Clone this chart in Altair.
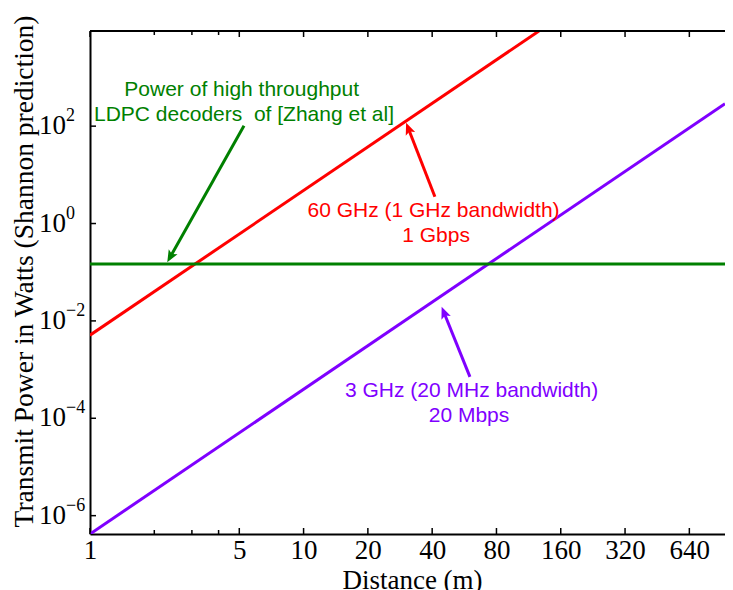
import math
import altair as alt
import pandas as pd

# ---------------- data ----------------
x_ticks = [1, 5, 10, 20, 40, 80, 160, 320, 640]
x_minor = [2, 3, 4]
y_ticks = [1e-6, 1e-4, 1e-2, 1, 1e2]
y_exps = ["\u22126", "\u22124", "\u22122", "0", "2"]

X_DOMAIN = [1, 940]
Y_DOMAIN = [4.2e-7, 9e3]

red_x = [1, 126.5]
red_y = [5.1e-3, 9e3]
purple_x = [1, 940]
purple_y = [4.2e-7, 290]
green_x = [1, 940]
green_y = [0.147, 0.147]

RED = "#ff0000"
GREEN = "#008000"
PURPLE = "#7f00ff"

ann_text = ["Power of high throughput", "LDPC decoders\u00a0 of [Zhang et al]",
            "60 GHz (1 GHz bandwidth)", "1 Gbps",
            "3 GHz (20 MHz bandwidth)", "20 Mbps"]
ann_x = [5.13, 5.26, 40.6, 41.7, 61.2, 59.5]
ann_y = [416, 127, 1.38, 0.423, 2.74e-4, 8.4e-5]
ann_color = [GREEN, GREEN, RED, RED, PURPLE, PURPLE]

arrow_start_x = [5.26, 41.2, 60.1]
arrow_start_y = [102, 3.55, 7.1e-4]
arrow_tip_x = [2.30, 30.2, 44.3]
arrow_tip_y = [0.16, 117.5, 0.0195]
arrow_color = [GREEN, RED, PURPLE]

# ---------------- layout ----------------
W, H = 635, 503
SERIF = "Liberation Serif"
SANS = "Liberation Sans"

xs = alt.Scale(type="log", domain=X_DOMAIN, nice=False)
ys = alt.Scale(type="log", domain=Y_DOMAIN, nice=False)

x_axis = alt.Axis(values=x_ticks, format="d", title="Distance (m)", ticks=False, tickSize=0,
                  labelPadding=24, labelBaseline="alphabetic", labelFont=SERIF, labelFontSize=27,
                  labelColor="black", labelFlush=False, labelOverlap=False,
                  titleFont=SERIF, titleFontSize=27, titleFontWeight="normal", titleColor="black",
                  titleBaseline="alphabetic", titleY=54, titleX=322,
                  domainColor="black", domainWidth=2, grid=False)
y_axis = alt.Axis(values=y_ticks, labels=False, ticks=False, tickSize=0,
                  title="Transmit Power in Watts (Shannon prediction)",
                  titleFont=SERIF, titleFontSize=27.5, titleFontWeight="normal", titleColor="black",
                  titleAngle=270, titleBaseline="alphabetic", titleAlign="center",
                  titleX=-58, titleY=240, domainColor="black", domainWidth=2, grid=False)

X = lambda f: alt.X(f, scale=xs, axis=x_axis)
Y = lambda f: alt.Y(f, scale=ys, axis=y_axis)


def line(xv, yv, color):
    df = pd.DataFrame({"x": xv, "y": yv})
    return alt.Chart(df).mark_line(color=color, strokeWidth=3, clip=True).encode(
        x=X("x:Q"), y=Y("y:Q"))


layers = [line(red_x, red_y, RED), line(purple_x, purple_y, PURPLE), line(green_x, green_y, GREEN)]

# ticks (inside, MATLAB style)
xt = pd.DataFrame({"x": x_ticks})
xm = pd.DataFrame({"x": x_minor})
yt = pd.DataFrame({"y": y_ticks, "e": y_exps})
for df, ln in ((xt, 6), (xm, 4)):
    layers.append(alt.Chart(df).mark_rule(color="black", strokeWidth=1.5).encode(
        x=X("x:Q"), y=alt.value(H), y2=alt.value(H - ln)))
    layers.append(alt.Chart(df).mark_rule(color="black", strokeWidth=1.5).encode(
        x=X("x:Q"), y=alt.value(0), y2=alt.value(ln)))
layers.append(alt.Chart(yt).mark_rule(color="black", strokeWidth=1.5).encode(
    y=Y("y:Q"), x=alt.value(0), x2=alt.value(6)))
# top frame line
layers.append(alt.Chart(pd.DataFrame({"a": [0]})).mark_rule(color="black", strokeWidth=2).encode(
    x=alt.value(0), x2=alt.value(W), y=alt.value(0)))

# y tick labels 10^n
layers.append(alt.Chart(yt).mark_text(align="left", baseline="alphabetic", dy=8, font=SERIF,
                                      fontSize=27, color="black").encode(
    y=Y("y:Q"), x=alt.value(-51), text=alt.value("10")))
layers.append(alt.Chart(yt).mark_text(align="left", baseline="alphabetic", dy=-5, font=SERIF,
                                      fontSize=18, color="black").encode(
    y=Y("y:Q"), x=alt.value(-24), text="e:N"))

# annotation texts
adf = pd.DataFrame({"x": ann_x, "y": ann_y, "t": ann_text, "c": ann_color})
layers.append(alt.Chart(adf).mark_text(align="center", baseline="alphabetic", font=SANS,
                                       fontSize=21).encode(
    x=X("x:Q"), y=Y("y:Q"), text="t:N", color=alt.Color("c:N", scale=None)))

# arrows
PXX = W / math.log10(X_DOMAIN[1] / X_DOMAIN[0])
PXY = H / math.log10(Y_DOMAIN[1] / Y_DOMAIN[0])
rows = []
for sx, sy, tx, ty, c in zip(arrow_start_x, arrow_start_y, arrow_tip_x, arrow_tip_y, arrow_color):
    dx = (math.log10(tx) - math.log10(sx)) * PXX
    dy = -(math.log10(ty) - math.log10(sy)) * PXY
    L = math.hypot(dx, dy)
    ang = math.degrees(math.atan2(dx, -dy)) % 360
    back = 7
    ex = 10 ** (math.log10(tx) - dx / L * back / PXX)
    ey = 10 ** (math.log10(ty) + dy / L * back / PXY)
    rows.append({"sx": sx, "sy": sy, "ex": ex, "ey": ey, "tx": tx, "ty": ty, "a": ang, "c": c})
arr = pd.DataFrame(rows)
layers.append(alt.Chart(arr).mark_rule(strokeWidth=3).encode(
    x=X("sx:Q"), y=Y("sy:Q"), x2="ex:Q", y2="ey:Q", color=alt.Color("c:N", scale=None)))
layers.append(alt.Chart(arr).mark_point(shape="M0,0L-0.42,1L0,0.78L0.42,1Z", filled=True,
                                        size=576, opacity=1, strokeWidth=0).encode(
    x=X("tx:Q"), y=Y("ty:Q"), angle=alt.Angle("a:Q", scale=None),
    color=alt.Color("c:N", scale=None)))

chart = alt.layer(*layers).properties(
    width=W, height=H,
    autosize=alt.AutoSizeParams(type="none"),
    padding={"left": 82, "top": 23, "right": 0, "bottom": 59},
    background="white",
).configure_view(stroke=None)

chart.save("out.html", embed_options={"renderer": "svg", "actions": False})
